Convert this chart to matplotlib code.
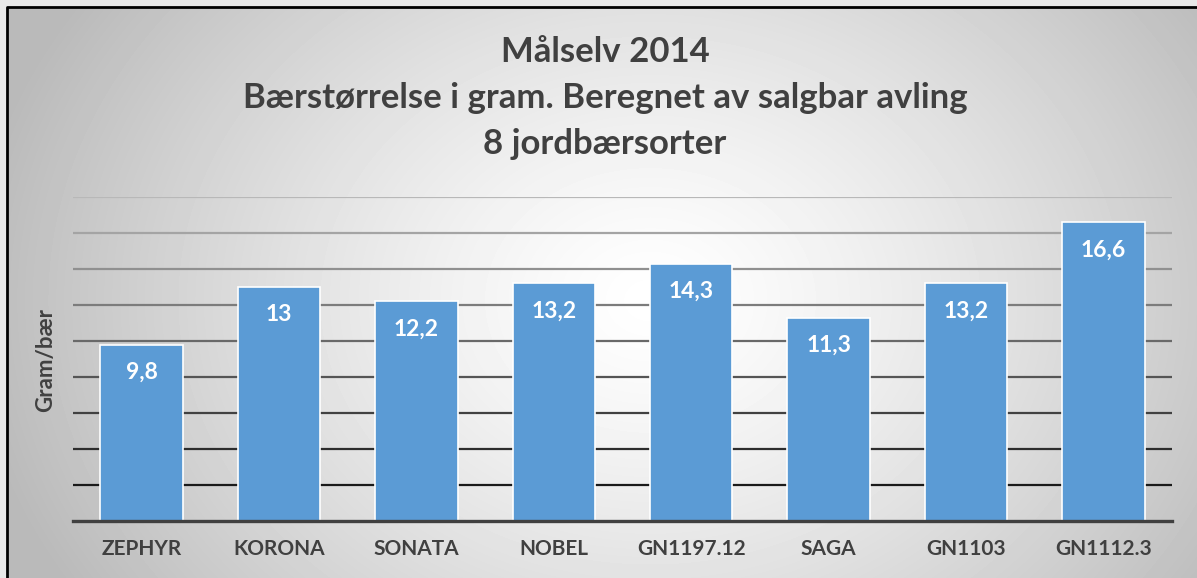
import numpy as np
import matplotlib.pyplot as plt
from matplotlib.patches import Rectangle

# data
sorter = ['ZEPHYR', 'KORONA', 'SONATA', 'NOBEL', 'GN1197.12', 'SAGA', 'GN1103', 'GN1112.3']
gram = [9.8, 13.0, 12.2, 13.2, 14.3, 11.3, 13.2, 16.6]
etiketter = ['9,8', '13', '12,2', '13,2', '14,3', '11,3', '13,2', '16,6']
tittel = ['Målselv 2014', 'Bærstørrelse i gram. Beregnet av salgbar avling', '8 jordbærsorter']

W, H = 1197, 578
plt.rcParams['font.family'] = ['Lato', 'DejaVu Sans']
fig = plt.figure(figsize=(W / 100, H / 100), dpi=100)
fig.patch.set_facecolor('#e8e8e8')

# background with radial gradient inside the frame
bg = fig.add_axes([0, 0, 1, 1], zorder=0)
yy, xx = np.mgrid[0:H, 0:W]
d = np.hypot(xx - 650, (yy - 300) * 1.25) / 680
shade = 1 - 0.27 * np.clip(d, 0, 1) ** 1.3
bg.imshow(shade, cmap='gray', vmin=0, vmax=1, extent=[0, W, H, 0], aspect='auto')
bg.add_patch(Rectangle((0, 0), W, 7, color='#e8e8e8', zorder=2))
bg.add_patch(Rectangle((0, 0), 7, H, color='#e8e8e8', zorder=2))
bg.plot([7, 7, W], [H, 7, 7], color='black', lw=2, zorder=3)
bg.set_xlim(0, W)
bg.set_ylim(H, 0)
bg.axis('off')

ax = fig.add_axes([73 / W, 1 - 521 / H, (1172 - 73) / W, (521 - 197) / H], zorder=1)
ax.patch.set_alpha(0)
x = np.arange(len(sorter))
bars = ax.bar(x, gram, width=0.6, color='#5b9bd5', edgecolor='white', linewidth=1.2, zorder=3)
ax.set_xlim(-0.5, len(sorter) - 0.5)
ax.set_ylim(0, 18)
ax.set_yticks(np.arange(2, 19, 2))
ax.tick_params(axis='y', length=0, labelleft=False)
ax.tick_params(axis='x', length=0, pad=13)
ax.set_xticks(x)
ax.set_xticklabels(sorter, fontsize=15, fontweight='bold', color='#404040')
ax.yaxis.grid(True, linewidth=1.6, zorder=1)
gl = ax.get_ygridlines()
for i, line in enumerate(gl):
    g = 0.1 + 0.62 * i / (len(gl) - 1)
    line.set_color((g, g, g))
for s in ['top', 'left', 'right']:
    ax.spines[s].set_visible(False)
ax.spines['bottom'].set_color('#404040')
ax.spines['bottom'].set_linewidth(2.4)
ax.spines['bottom'].set_zorder(4)

for b, lab in zip(bars, etiketter):
    ax.annotate(lab, (b.get_x() + b.get_width() / 2, b.get_height()), xytext=(0, -20),
                textcoords='offset points', ha='center', va='center',
                fontsize=16.5, fontweight='bold', color='white', zorder=5)

ax.set_ylabel('Gram/bær', fontsize=16, fontweight='bold', color='#404040')
ax.yaxis.set_label_coords((56 - 73) / (1172 - 73), (521 - 360) / (521 - 197))

for txt, base in zip(tittel, [62.5, 108, 153.5]):
    fig.text(605 / W, 1 - base / H, txt, ha='center', va='baseline',
             fontsize=25, fontweight='bold', color='#404040')

fig.savefig('out.png', dpi=100)
